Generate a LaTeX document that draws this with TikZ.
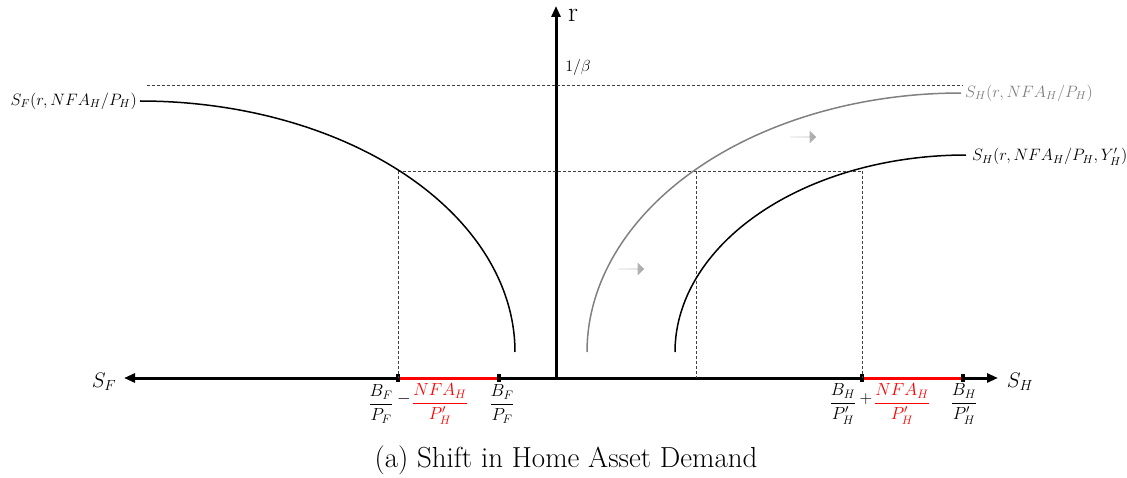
\RequirePackage{fix-cm}
\documentclass[tikz,border=0pt]{standalone}
\usepackage{amsmath}
\usetikzlibrary{arrows.meta,shapes.arrows}
\begin{document}
\begin{tikzpicture}[x=1pt,y=-1pt,
  axis/.style={line width=3pt},
  axtip/.style={-{Triangle[length=11pt,width=9pt]}},
  guide/.style={dashed,dash pattern=on 3pt off 2pt,line width=0.6pt,black!75},
  curve/.style={line width=1.5pt},
  lbl/.style={font=\fontsize{16.5}{19}\selectfont,inner sep=0pt},
  fraclbl/.style={font=\fontsize{17.5}{20}\selectfont,inner sep=0pt},
  axtick/.style={fill=black,inner sep=0pt,minimum width=4pt,minimum height=8pt},
  shiftarrow/.style={single arrow,draw=none,inner sep=0pt,minimum height=26pt,minimum width=13pt,
     single arrow head extend=3pt,left color=gray!30,right color=gray!70}
]
\useasboundingbox (0,0) rectangle (1127,478);
% axes
\coordinate (O) at (556,378);
\coordinate (Rtop) at (556,6);
\coordinate (Lend) at (124,378);
\coordinate (Rend) at (998,378);
\draw[axis,axtip] (O) -- (Rtop);
\draw[axis,axtip] (O) -- (Lend);
\draw[axis,axtip] (O) -- (Rend);
\node[font=\fontsize{28}{30}\selectfont,inner sep=0pt] (rlab) at (573,15) {r};
\node[font=\fontsize{16}{18}\selectfont,inner sep=0pt] (beta) at (578,68) {$1/\beta$};
\node[font=\fontsize{21}{24}\selectfont,inner sep=0pt] (SF) at (104,382) {$S_F$};
\node[font=\fontsize{21}{24}\selectfont,inner sep=0pt] (SH) at (1020,382) {$S_H$};
% red segments and ticks
\coordinate (a1) at (398,378);
\coordinate (a2) at (499,378);
\coordinate (b1) at (862,378);
\coordinate (b2) at (963,378);
\draw[red,line width=3pt] (a1) -- (a2);
\draw[red,line width=3pt] (b1) -- (b2);
\node[axtick] (ta1) at (a1) {};
\node[axtick] (ta2) at (a2) {};
\node[axtick] (tb1) at (b1) {};
\node[axtick] (tb2) at (b2) {};
% dashed guides
\coordinate (d1) at (147,85);
\coordinate (d2) at (963,85);
\draw[guide] (d1) -- (d2);
\coordinate (m1) at (398,171);
\coordinate (m2) at (696,171);
\coordinate (m3) at (862,171);
\coordinate (v2) at (696,378);
\draw[guide] (m1) -- (m3);
\draw[guide] (m1) -- (a1);
\draw[guide] (m2) -- (v2);
\draw[guide] (m3) -- (b1);
% curves
\draw[curve] plot[domain=90:0,samples=80,smooth] ({140+375*cos(\x)},{352-251*sin(\x)});
\draw[curve,black!50] plot[domain=180:90,samples=80,smooth] ({961+374*cos(\x)},{352-259*sin(\x)});
\draw[curve] plot[domain=180:90,samples=80,smooth] ({966+291*cos(\x)},{352-197*sin(\x)});
% curve labels
\node[lbl,anchor=east] (lF) at (137,101) {$S_F(r,NFA_H/P_H)$};
\node[lbl,anchor=west,black!50] (lH1) at (965,93) {$S_H(r,NFA_H/P_H)$};
\node[lbl,anchor=west] (lH2) at (972,157) {$S_H(r,NFA_H/P_H,Y'_H)$};
% shift arrows
\node[shiftarrow] (s1) at (631,269) {};
\node[shiftarrow] (s2) at (803,137) {};
% axis labels
\node[fraclbl] (fa) at (381,404) {$\dfrac{B_F}{P_F}$};
\node[fraclbl] (mi) at (404,399) {$-$};
\node[fraclbl,red] (fb) at (440,404) {$\dfrac{NFA_H}{P'_H}$};
\node[fraclbl] (fc) at (502,404) {$\dfrac{B_F}{P_F}$};
\node[fraclbl] (fd) at (843,404) {$\dfrac{B_H}{P'_H}$};
\node[fraclbl] (pl) at (866,399) {$+$};
\node[fraclbl,red] (fe) at (902,404) {$\dfrac{NFA_H}{P'_H}$};
\node[fraclbl] (ff) at (964,404) {$\dfrac{B_H}{P'_H}$};
% caption
\node[font=\fontsize{29}{32}\selectfont,inner sep=0pt] (cap) at (566,460) {(a) Shift in Home Asset Demand};
\end{tikzpicture}
\end{document}
